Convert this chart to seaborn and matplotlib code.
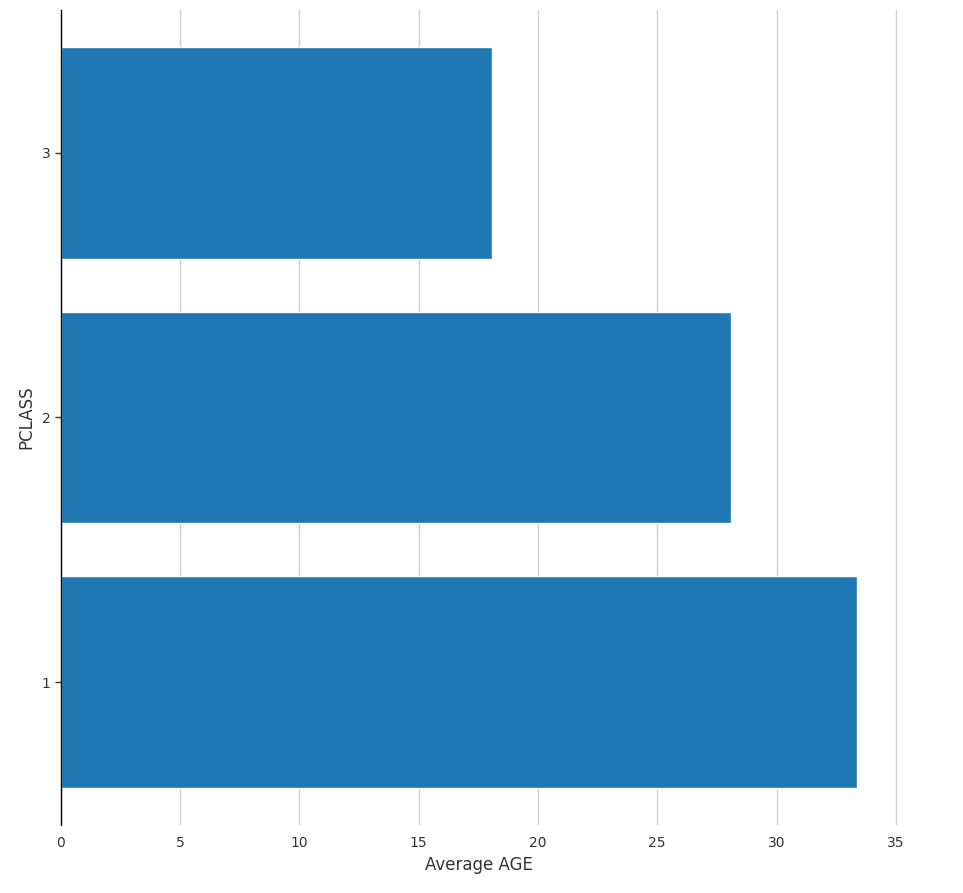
import matplotlib
matplotlib.use('Agg')
import matplotlib.pyplot as plt
import pandas as pd
import seaborn as sns

# Moyenne d'age par classe
pclass = ['1', '2', '3']
avg_age = [33.36, 28.08, 18.06]

df = pd.DataFrame({'PCLASS': pclass, 'age': avg_age})

sns.set_style('white')
fig, ax = plt.subplots(figsize=(9.63, 8.93), dpi=100)
fig.subplots_adjust(left=0.063, right=0.931, top=0.989, bottom=0.076)

sns.barplot(data=df, y='PCLASS', x='age', order=['3', '2', '1'],
            orient='h', color='#1f77b4', saturation=1, width=0.8,
            errorbar=None, ax=ax)

ax.set_ylim(2.54, -0.54)
ax.set_xlim(0, 35.03)
ax.set_xticks(range(0, 36, 5))

# grille verticale seulement
ax.grid(axis='x', color='#d0d0d0', linewidth=1)
ax.set_axisbelow(True)
for s in ['top', 'right', 'bottom']:
    ax.spines[s].set_visible(False)
ax.spines['left'].set_color('black')
ax.spines['left'].set_linewidth(1)

ax.tick_params(axis='y', length=4, width=1, color='#333333', labelsize=10,
               labelcolor='#333333', left=True)
ax.tick_params(axis='x', length=0, labelsize=10, labelcolor='#333333', pad=8)

ax.set_xlabel('Average AGE', fontsize=12, color='#333333')
ax.set_ylabel('PCLASS', fontsize=12, color='#333333')

plt.savefig('out.png', dpi=100)
